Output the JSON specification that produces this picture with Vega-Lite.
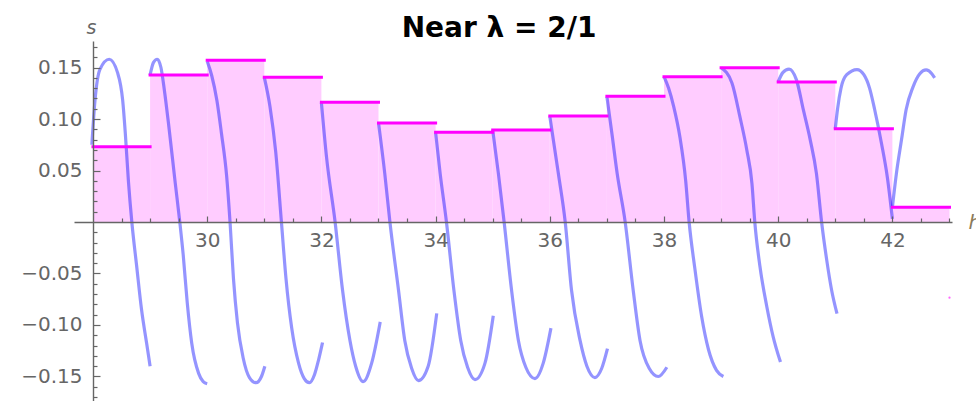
{
  "$schema": "https://vega.github.io/schema/vega-lite/v6.json",
  "width": 878,
  "height": 362,
  "autosize": {"type": "none"},
  "padding": {"left": 74, "top": 41, "right": 24, "bottom": 0},
  "background": "white",
  "config": {"view": {"stroke": null}},
  "title": {"text": "Near λ = 2/1", "font": "DejaVu Sans", "fontSize": 28, "fontWeight": "bold", "color": "#000000", "anchor": "middle", "dx": -14, "dy": 52, "offset": 5, "baseline": "alphabetic"},
  "datasets": {
    "steps": [
      {"h0": 28, "h1": 29, "s": 0.0731},
      {"h0": 29, "h1": 30, "s": 0.1427},
      {"h0": 30, "h1": 31, "s": 0.157},
      {"h0": 31, "h1": 32, "s": 0.1405},
      {"h0": 32, "h1": 33, "s": 0.1162},
      {"h0": 33, "h1": 34, "s": 0.0962},
      {"h0": 34, "h1": 35, "s": 0.0871},
      {"h0": 35, "h1": 36, "s": 0.0894},
      {"h0": 36, "h1": 37, "s": 0.1028},
      {"h0": 37, "h1": 38, "s": 0.122},
      {"h0": 38, "h1": 39, "s": 0.1411},
      {"h0": 39, "h1": 40, "s": 0.1498},
      {"h0": 40, "h1": 41, "s": 0.1359},
      {"h0": 41, "h1": 42, "s": 0.0906},
      {"h0": 42, "h1": 43, "s": 0.0143}
    ],
    "dot": [{"h": 43.0, "s": -0.0735}],
    "curves": [
      {"seg": 1, "h": 27.98, "s": 0.075},
      {"seg": 1, "h": 28.035, "s": 0.118},
      {"seg": 1, "h": 28.12, "s": 0.148},
      {"seg": 1, "h": 28.285, "s": 0.158},
      {"seg": 1, "h": 28.43, "s": 0.145},
      {"seg": 1, "h": 28.52, "s": 0.118},
      {"seg": 1, "h": 28.566, "s": 0.086},
      {"seg": 1, "h": 28.62, "s": 0.04},
      {"seg": 1, "h": 28.68, "s": 0.0},
      {"seg": 1, "h": 28.765, "s": -0.043},
      {"seg": 1, "h": 28.85, "s": -0.085},
      {"seg": 1, "h": 28.94, "s": -0.118},
      {"seg": 1, "h": 29.0, "s": -0.14},

      {"seg": 2, "h": 29.0, "s": 0.1427},
      {"seg": 2, "h": 29.06, "s": 0.155},
      {"seg": 2, "h": 29.125, "s": 0.158},
      {"seg": 2, "h": 29.19, "s": 0.15},
      {"seg": 2, "h": 29.25, "s": 0.128},
      {"seg": 2, "h": 29.33, "s": 0.092},
      {"seg": 2, "h": 29.44, "s": 0.038},
      {"seg": 2, "h": 29.52, "s": 0.0},
      {"seg": 2, "h": 29.58, "s": -0.032},
      {"seg": 2, "h": 29.65, "s": -0.078},
      {"seg": 2, "h": 29.73, "s": -0.118},
      {"seg": 2, "h": 29.85, "s": -0.147},
      {"seg": 2, "h": 29.93, "s": -0.155},
      {"seg": 2, "h": 30.0, "s": -0.157},

      {"seg": 3, "h": 30.0, "s": 0.156},
      {"seg": 3, "h": 30.08, "s": 0.142},
      {"seg": 3, "h": 30.17, "s": 0.118},
      {"seg": 3, "h": 30.25, "s": 0.086},
      {"seg": 3, "h": 30.34, "s": 0.045},
      {"seg": 3, "h": 30.4, "s": 0.0},
      {"seg": 3, "h": 30.46, "s": -0.055},
      {"seg": 3, "h": 30.53, "s": -0.098},
      {"seg": 3, "h": 30.63, "s": -0.132},
      {"seg": 3, "h": 30.74, "s": -0.151},
      {"seg": 3, "h": 30.855, "s": -0.156},
      {"seg": 3, "h": 30.95, "s": -0.15},
      {"seg": 3, "h": 31.01, "s": -0.14},

      {"seg": 4, "h": 31.0, "s": 0.1405},
      {"seg": 4, "h": 31.1, "s": 0.112},
      {"seg": 4, "h": 31.2, "s": 0.068},
      {"seg": 4, "h": 31.3, "s": 0.0},
      {"seg": 4, "h": 31.38, "s": -0.055},
      {"seg": 4, "h": 31.48, "s": -0.103},
      {"seg": 4, "h": 31.6, "s": -0.137},
      {"seg": 4, "h": 31.7, "s": -0.152},
      {"seg": 4, "h": 31.79, "s": -0.156},
      {"seg": 4, "h": 31.88, "s": -0.148},
      {"seg": 4, "h": 31.95, "s": -0.134},
      {"seg": 4, "h": 32.02, "s": -0.117},

      {"seg": 5, "h": 32.0, "s": 0.116},
      {"seg": 5, "h": 32.09, "s": 0.063},
      {"seg": 5, "h": 32.24, "s": 0.0},
      {"seg": 5, "h": 32.37, "s": -0.066},
      {"seg": 5, "h": 32.5, "s": -0.115},
      {"seg": 5, "h": 32.6, "s": -0.14},
      {"seg": 5, "h": 32.73, "s": -0.155},
      {"seg": 5, "h": 32.88, "s": -0.137},
      {"seg": 5, "h": 33.03, "s": -0.097},

      {"seg": 6, "h": 33.0, "s": 0.0964},
      {"seg": 6, "h": 33.11, "s": 0.047},
      {"seg": 6, "h": 33.2, "s": 0.0},
      {"seg": 6, "h": 33.35, "s": -0.066},
      {"seg": 6, "h": 33.46, "s": -0.115},
      {"seg": 6, "h": 33.58, "s": -0.142},
      {"seg": 6, "h": 33.7, "s": -0.154},
      {"seg": 6, "h": 33.87, "s": -0.14},
      {"seg": 6, "h": 34.02, "s": -0.0887},

      {"seg": 7, "h": 34.0, "s": 0.087},
      {"seg": 7, "h": 34.08, "s": 0.047},
      {"seg": 7, "h": 34.19, "s": 0.0},
      {"seg": 7, "h": 34.32, "s": -0.066},
      {"seg": 7, "h": 34.44, "s": -0.115},
      {"seg": 7, "h": 34.56, "s": -0.141},
      {"seg": 7, "h": 34.69, "s": -0.153},
      {"seg": 7, "h": 34.865, "s": -0.137},
      {"seg": 7, "h": 35.01, "s": -0.091},

      {"seg": 8, "h": 35.0, "s": 0.0893},
      {"seg": 8, "h": 35.1, "s": 0.047},
      {"seg": 8, "h": 35.2, "s": 0.0},
      {"seg": 8, "h": 35.33, "s": -0.066},
      {"seg": 8, "h": 35.45, "s": -0.115},
      {"seg": 8, "h": 35.58, "s": -0.141},
      {"seg": 8, "h": 35.74, "s": -0.152},
      {"seg": 8, "h": 35.885, "s": -0.137},
      {"seg": 8, "h": 36.02, "s": -0.103},

      {"seg": 9, "h": 36.0, "s": 0.1026},
      {"seg": 9, "h": 36.15, "s": 0.047},
      {"seg": 9, "h": 36.27, "s": 0.0},
      {"seg": 9, "h": 36.38, "s": -0.066},
      {"seg": 9, "h": 36.53, "s": -0.115},
      {"seg": 9, "h": 36.65, "s": -0.14},
      {"seg": 9, "h": 36.79, "s": -0.151},
      {"seg": 9, "h": 36.91, "s": -0.142},
      {"seg": 9, "h": 37.01, "s": -0.123},

      {"seg": 10, "h": 37.0, "s": 0.1217},
      {"seg": 10, "h": 37.09, "s": 0.085},
      {"seg": 10, "h": 37.18, "s": 0.047},
      {"seg": 10, "h": 37.32, "s": 0.0},
      {"seg": 10, "h": 37.46, "s": -0.066},
      {"seg": 10, "h": 37.58, "s": -0.115},
      {"seg": 10, "h": 37.74, "s": -0.142},
      {"seg": 10, "h": 37.9, "s": -0.15},
      {"seg": 10, "h": 38.05, "s": -0.141},

      {"seg": 11, "h": 38.0, "s": 0.1411},
      {"seg": 11, "h": 38.08, "s": 0.13},
      {"seg": 11, "h": 38.17, "s": 0.112},
      {"seg": 11, "h": 38.28, "s": 0.082},
      {"seg": 11, "h": 38.38, "s": 0.04},
      {"seg": 11, "h": 38.44, "s": 0.0},
      {"seg": 11, "h": 38.54, "s": -0.045},
      {"seg": 11, "h": 38.66, "s": -0.092},
      {"seg": 11, "h": 38.78, "s": -0.124},
      {"seg": 11, "h": 38.92, "s": -0.144},
      {"seg": 11, "h": 39.04, "s": -0.15},

      {"seg": 12, "h": 39.0, "s": 0.1498},
      {"seg": 12, "h": 39.19, "s": 0.135},
      {"seg": 12, "h": 39.33, "s": 0.102},
      {"seg": 12, "h": 39.45, "s": 0.07},
      {"seg": 12, "h": 39.54, "s": 0.0375},
      {"seg": 12, "h": 39.59, "s": 0.0},
      {"seg": 12, "h": 39.68, "s": -0.043},
      {"seg": 12, "h": 39.8, "s": -0.082},
      {"seg": 12, "h": 39.91, "s": -0.111},
      {"seg": 12, "h": 40.04, "s": -0.136},

      {"seg": 13, "h": 40.0, "s": 0.136},
      {"seg": 13, "h": 40.08, "s": 0.145},
      {"seg": 13, "h": 40.19, "s": 0.1485},
      {"seg": 13, "h": 40.32, "s": 0.138},
      {"seg": 13, "h": 40.44, "s": 0.109},
      {"seg": 13, "h": 40.56, "s": 0.08},
      {"seg": 13, "h": 40.67, "s": 0.047},
      {"seg": 13, "h": 40.76, "s": 0.0},
      {"seg": 13, "h": 40.85, "s": -0.037},
      {"seg": 13, "h": 40.935, "s": -0.066},
      {"seg": 13, "h": 41.03, "s": -0.089},

      {"seg": 14, "h": 41.0, "s": 0.0906},
      {"seg": 14, "h": 41.04, "s": 0.11},
      {"seg": 14, "h": 41.1, "s": 0.13},
      {"seg": 14, "h": 41.2, "s": 0.143},
      {"seg": 14, "h": 41.38, "s": 0.148},
      {"seg": 14, "h": 41.5, "s": 0.143},
      {"seg": 14, "h": 41.6, "s": 0.13},
      {"seg": 14, "h": 41.69, "s": 0.109},
      {"seg": 14, "h": 41.81, "s": 0.076},
      {"seg": 14, "h": 41.91, "s": 0.044},
      {"seg": 14, "h": 42.0, "s": 0.003},

      {"seg": 15, "h": 42.0, "s": 0.0143},
      {"seg": 15, "h": 42.07, "s": 0.047},
      {"seg": 15, "h": 42.16, "s": 0.08},
      {"seg": 15, "h": 42.24, "s": 0.109},
      {"seg": 15, "h": 42.36, "s": 0.131},
      {"seg": 15, "h": 42.48, "s": 0.144},
      {"seg": 15, "h": 42.59, "s": 0.1476},
      {"seg": 15, "h": 42.69, "s": 0.144},
      {"seg": 15, "h": 42.74, "s": 0.14}
    ]
  },
  "layer": [
    {
      "data": {"name": "steps"},
      "mark": {"type": "rect", "color": "#FFCCFF"},
      "encoding": {
        "x": {"field": "h0", "type": "quantitative", "scale": {"domain": [27.6673, 43.0438], "nice": false, "zero": false},
          "axis": {"orient": "bottom", "offset": -181, "zindex": 2, "values": [30, 32, 34, 36, 38, 40, 42], "tickSize": -6, "tickWidth": 1.2, "tickColor": "#666666", "domainColor": "#666666", "domainWidth": 1.4, "labelFont": "DejaVu Sans", "labelFontSize": 20, "labelColor": "#666666", "labelPadding": 14, "labelFlush": false, "grid": false, "title": "h", "titleFont": "DejaVu Sans", "titleFontSize": 20, "titleFontStyle": "italic", "titleFontWeight": "normal", "titleColor": "#8a7a5a", "titleX": 894, "titleY": 6, "titleAlign": "left", "titleBaseline": "alphabetic", "titleAngle": 0}},
        "x2": {"field": "h1"},
        "y": {"field": "s", "type": "quantitative", "scale": {"domain": [-0.17573, 0.17573], "nice": false, "zero": false},
          "axis": {"orient": "left", "offset": -19, "zindex": 2, "values": [-0.15, -0.1, -0.05, 0.05, 0.1, 0.15], "format": ".2f", "tickSize": -7, "tickWidth": 1.2, "tickColor": "#666666", "domainColor": "#666666", "domainWidth": 1.4, "labelFont": "DejaVu Sans", "labelFontSize": 20, "labelColor": "#666666", "labelPadding": 18, "labelFlush": false, "grid": false, "title": "s", "titleFont": "DejaVu Sans", "titleFontSize": 19, "titleFontStyle": "italic", "titleFontWeight": "normal", "titleColor": "#666666", "titleX": -2, "titleY": -8, "titleAlign": "center", "titleBaseline": "alphabetic", "titleAngle": 0}},
        "y2": {"datum": 0}
      }
    },
    {
      "data": {"name": "curves"},
      "mark": {"type": "line", "stroke": "#0000FF", "strokeOpacity": 0.42, "strokeWidth": 3.2, "interpolate": "monotone"},
      "encoding": {
        "x": {"field": "h", "type": "quantitative",
          "axis": {"orient": "bottom", "offset": -181, "zindex": 2, "values": [28.5, 29, 29.5, 30.5, 31, 31.5, 32.5, 33, 33.5, 34.5, 35, 35.5, 36.5, 37, 37.5, 38.5, 39, 39.5, 40.5, 41, 41.5, 42.5, 43], "tickSize": -4, "tickWidth": 1.2, "tickColor": "#666666", "domain": false, "labels": false, "grid": false, "title": null}},
        "y": {"field": "s", "type": "quantitative",
          "axis": {"orient": "left", "offset": -19, "zindex": 2, "values": [-0.17, -0.16, -0.14, -0.13, -0.12, -0.11, -0.09, -0.08, -0.07, -0.06, -0.04, -0.03, -0.02, -0.01, 0.01, 0.02, 0.03, 0.04, 0.06, 0.07, 0.08, 0.09, 0.11, 0.12, 0.13, 0.14, 0.16, 0.17], "tickSize": -4, "tickWidth": 1.2, "tickColor": "#666666", "domain": false, "labels": false, "grid": false, "title": null}},
        "detail": {"field": "seg"}
      }
    },
    {
      "data": {"name": "steps"},
      "mark": {"type": "rule", "stroke": "#FF00FF", "strokeWidth": 3, "strokeCap": "square"},
      "encoding": {
        "x": {"field": "h0", "type": "quantitative", "axis": null},
        "x2": {"field": "h1"},
        "y": {"field": "s", "type": "quantitative", "axis": null}
      }
    },
    {
      "data": {"name": "dot"},
      "mark": {"type": "circle", "color": "#FF00FF", "size": 5, "opacity": 0.6},
      "encoding": {
        "x": {"field": "h", "type": "quantitative", "axis": null},
        "y": {"field": "s", "type": "quantitative", "axis": null}
      }
    }
  ],
  "resolve": {"axis": {"x": "independent", "y": "independent"}}
}
